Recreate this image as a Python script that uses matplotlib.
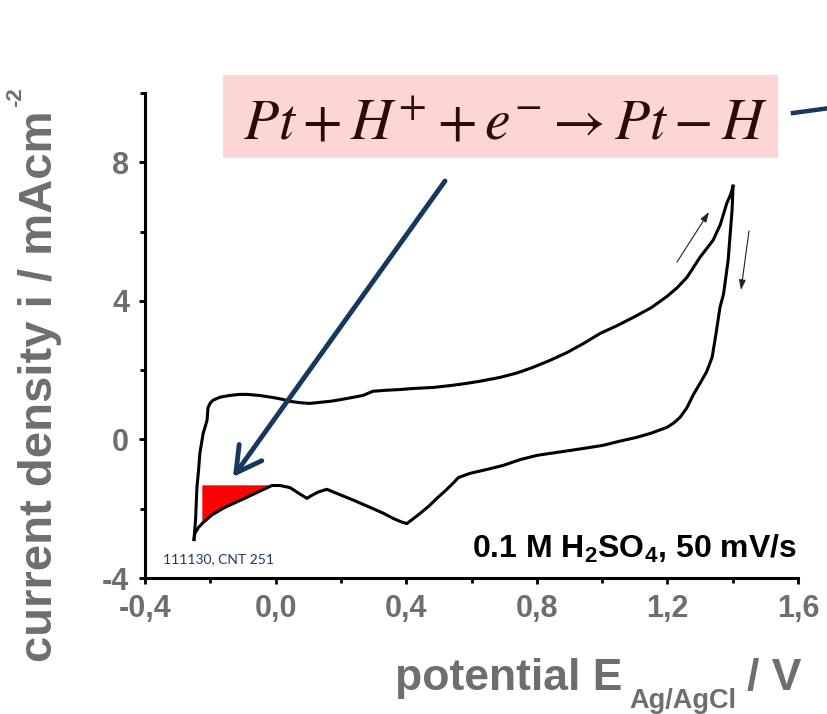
import numpy as np
import matplotlib
matplotlib.use("Agg")
import matplotlib.pyplot as plt
from matplotlib.patches import Rectangle
from matplotlib.lines import Line2D

plt.rcParams['font.family'] = ['Liberation Sans', 'DejaVu Sans']
plt.rcParams['mathtext.fontset'] = 'custom'
plt.rcParams['mathtext.rm'] = 'Liberation Sans'
plt.rcParams['mathtext.bf'] = 'Liberation Sans:bold'
plt.rcParams['mathtext.it'] = 'Liberation Sans:italic'

# ---------------- data ----------------
anodic_E = [-0.250, -0.245, -0.241, -0.236, -0.232, -0.222, -0.210, -0.207, -0.200, -0.192,
            -0.170, -0.140, -0.110, -0.088, -0.050, -0.008, 0.020, 0.044, 0.075, 0.105,
            0.135, 0.167, 0.200, 0.240, 0.268, 0.298, 0.340, 0.381, 0.421, 0.482,
            0.540, 0.586, 0.626, 0.687, 0.740, 0.788, 0.840, 0.893, 0.945, 0.994,
            1.045, 1.095, 1.150, 1.199, 1.230, 1.260, 1.300, 1.340, 1.362, 1.382,
            1.395, 1.401]
anodic_i = [-2.89, -2.30, -1.39, -0.90, -0.40, 0.17, 0.55, 0.92, 1.05, 1.13,
            1.22, 1.27, 1.30, 1.30, 1.27, 1.21, 1.16, 1.10, 1.06, 1.04,
            1.07, 1.10, 1.15, 1.22, 1.27, 1.39, 1.42, 1.44, 1.47, 1.50,
            1.56, 1.62, 1.68, 1.79, 1.92, 2.08, 2.28, 2.51, 2.78, 3.06,
            3.28, 3.52, 3.80, 4.13, 4.38, 4.68, 5.26, 5.75, 6.20, 6.82,
            7.10, 7.31]

cathodic_E = [1.401, 1.398, 1.392, 1.386, 1.372, 1.361, 1.348, 1.337, 1.320, 1.300,
              1.280, 1.260, 1.239, 1.220, 1.199, 1.150, 1.106, 1.050, 1.003, 0.950,
              0.901, 0.850, 0.801, 0.750, 0.697, 0.650, 0.595, 0.560, 0.543, 0.520,
              0.494, 0.470, 0.442, 0.420, 0.402, 0.385, 0.360, 0.330, 0.289, 0.240,
              0.188, 0.157, 0.130, 0.110, 0.096, 0.070, 0.044, 0.013, -0.011, -0.050,
              -0.088, -0.125, -0.161, -0.195, -0.222, -0.237, -0.247, -0.250]
cathodic_i = [7.31, 6.60, 5.90, 5.17, 4.20, 3.81, 3.00, 2.37, 1.95, 1.62,
              1.30, 0.92, 0.64, 0.48, 0.35, 0.18, 0.06, -0.06, -0.17, -0.25,
              -0.32, -0.39, -0.46, -0.58, -0.75, -0.86, -0.98, -1.10, -1.27, -1.48,
              -1.70, -1.92, -2.14, -2.30, -2.43, -2.38, -2.28, -2.13, -1.96, -1.76,
              -1.56, -1.44, -1.52, -1.62, -1.70, -1.55, -1.39, -1.33, -1.33, -1.50,
              -1.67, -1.83, -1.99, -2.18, -2.40, -2.55, -2.71, -2.89]

# hydrogen adsorption region (red)
had_E_range = [-0.226, -0.012]
had_i_level = -1.31

x_ticks = [-0.4, 0.0, 0.4, 0.8, 1.2, 1.6]
x_ticklabels = ['-0,4', '0,0', '0,4', '0,8', '1,2', '1,6']
x_minor = [-0.2, 0.2, 0.6, 1.0, 1.4]
y_ticks = [-4, 0, 4, 8]
y_ticklabels = ['-4', '0', '4', '8']
y_minor = [-2, 2, 6, 10]

GREY = '#6e6e6e'
NAVY = '#17375E'

W, H = 827, 714
fig = plt.figure(figsize=(W / 100, H / 100), dpi=100)
ax = fig.add_axes([145 / W, (H - 578) / H, (798 - 145) / W, (578 - 93) / H])

# red filled area
cE = np.array(cathodic_E)[::-1]
cI = np.array(cathodic_i)[::-1]
mask = (cE > had_E_range[0]) & (cE < had_E_range[1])
fE = np.concatenate([[had_E_range[0]], cE[mask], [had_E_range[1]]])
fI = np.concatenate([[np.interp(had_E_range[0], cE, cI)], cI[mask],
                     [np.interp(had_E_range[1], cE, cI)]])
ax.fill_between(fE, fI, had_i_level, color='#FF0000', lw=0, zorder=1)

ax.plot(anodic_E, anodic_i, color='black', lw=2.2, zorder=3, solid_joinstyle='round')
ax.plot(cathodic_E, cathodic_i, color='black', lw=2.2, zorder=3, solid_joinstyle='round')

ax.set_xlim(-0.4, 1.6)
ax.set_ylim(-4, 10)
ax.set_xticks(x_ticks)
ax.set_xticklabels(x_ticklabels)
ax.set_xticks(x_minor, minor=True)
ax.set_yticks(y_ticks)
ax.set_yticklabels(y_ticklabels)
ax.set_yticks(y_minor, minor=True)

for s in ['top', 'right']:
    ax.spines[s].set_visible(False)
for s in ['left', 'bottom']:
    ax.spines[s].set_linewidth(2.2)
ax.tick_params(which='major', direction='out', length=4.5, width=2.0,
               labelsize=22, labelcolor=GREY, color='black')
ax.tick_params(which='minor', direction='out', length=3.5, width=2.0, color='black')
ax.tick_params(axis='x', which='major', pad=7)
ax.tick_params(axis='y', which='major', pad=7)
for lab in ax.get_xticklabels() + ax.get_yticklabels():
    lab.set_fontweight('bold')

# axis labels (figure pixel placement)
def fp(x, y):
    return (x / W, (H - y) / H)

fig.text(*fp(52, 662), 'current density i / mAcm', rotation=90,
         rotation_mode='anchor', ha='left', va='baseline', fontsize=34,
         fontweight='bold', color=GREY)
fig.text(*fp(21, 107), '-2', rotation=90,
         rotation_mode='anchor', ha='left', va='baseline', fontsize=16,
         fontweight='bold', color=GREY)
fig.text(*fp(622, 690), 'potential E', ha='right', va='baseline', fontsize=32,
         fontweight='bold', color=GREY)
fig.text(*fp(629, 708), 'Ag/AgCl', ha='left', va='baseline', fontsize=19.5,
         fontweight='bold', color=GREY)
fig.text(*fp(747, 690), '/ V', ha='left', va='baseline', fontsize=32,
         fontweight='bold', color=GREY)

# annotations inside the plot
fig.text(*fp(797, 558), r'0.1 M H$_\mathbf{2}$SO$_\mathbf{4}$, 50 mV/s', ha='right',
         va='baseline', fontsize=23, fontweight='bold', color='black')
fig.text(*fp(163, 563), '111130, CNT 251', ha='left', va='baseline', fontsize=10,
         family=['Lato', 'DejaVu Sans'], color='#1F3864')

# pink box with reaction
fig.patches.append(Rectangle(fp(223, 158), (778 - 223) / W, (158 - 75) / H,
                             transform=fig.transFigure, facecolor='#FCD5D5',
                             edgecolor='none', zorder=5))
fig.text(*fp(505, 139), r'$Pt+H^{+}+e^{-}\rightarrow Pt-H$', ha='center', va='baseline',
         fontsize=41.5, color='#2B0A0A', math_fontfamily='stix', zorder=6)

# navy arrow and line
ax.annotate('', xy=(233, H - 477), xytext=(445, H - 181), xycoords='figure pixels',
            textcoords='figure pixels',
            arrowprops=dict(arrowstyle='->,head_length=0.9,head_width=0.5',
                            color=NAVY, lw=3.5, mutation_scale=20, shrinkA=0, shrinkB=0),
            annotation_clip=False)
fig.add_artist(Line2D([793 / W, 830 / W], [(H - 113) / H, (H - 108) / H],
                      transform=fig.transFigure, color=NAVY, lw=3.2))

# small scan-direction arrows
ax.annotate('', xy=(709, H - 212), xytext=(677, H - 262), xycoords='figure pixels',
            textcoords='figure pixels',
            arrowprops=dict(arrowstyle='-|>,head_length=0.6,head_width=0.2',
                            color='#222222', lw=0.8, mutation_scale=10, shrinkA=0, shrinkB=0))
ax.annotate('', xy=(741, H - 290), xytext=(749, H - 231), xycoords='figure pixels',
            textcoords='figure pixels',
            arrowprops=dict(arrowstyle='-|>,head_length=0.6,head_width=0.2',
                            color='#222222', lw=0.8, mutation_scale=10, shrinkA=0, shrinkB=0))

fig.savefig('out.png', dpi=100)
